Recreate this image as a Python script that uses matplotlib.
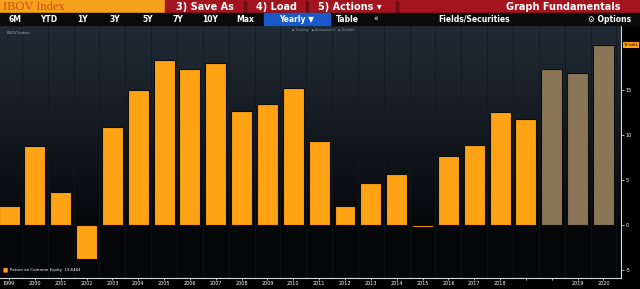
import numpy as np
import matplotlib.pyplot as plt
from matplotlib.patches import Rectangle

# return on common equity, yearly (last three bars are estimates)
labels = ["1999", "2000", "2001", "2002", "2003", "2004", "2005", "2006",
          "2007", "2008", "2009", "2010", "2011", "2012", "2013", "2014",
          "2015", "2016", "2017", "2018", "", "", "2019", "2020"]
roe = [2.1, 8.8, 3.6, -3.8, 10.9, 15.0, 18.3, 17.3, 18.0, 12.7, 13.4, 15.2,
       9.3, 2.1, 4.7, 5.7, -0.2, 7.6, 8.9, 12.5, 11.8, 17.3, 16.85, 20.0]
is_est = [False] * 21 + [True] * 3
last_val = 19.6464

W, H = 640, 289
fig = plt.figure(figsize=(6.4, 2.89), dpi=100)
fig.patch.set_facecolor("#000000")

def px(x0, y0, w, h, color):
    # rectangle in pixel coordinates, y measured from the top
    fig.patches.append(Rectangle((x0 / W, 1 - (y0 + h) / H), w / W, h / H,
                                 transform=fig.transFigure, color=color, zorder=0))

def ptext(x, y, s, **kw):
    fig.text(x / W, 1 - y / H, s, va="center", **kw)

# header row
px(0, 0, 165, 13, "#f6a11b")
px(165, 0, 475, 13, "#a3141f")
for sx in [244, 306, 396]:
    px(sx, 1, 1.5, 11, "#6d0d14")
px(0, 13, 640, 12, "#0b0b0b")
ptext(3, 6.8, "IBOV Index", fontsize=9, color="#c8501c", family="Liberation Serif")
ptext(176, 6.5, "3) Save As", fontsize=7, color="white", weight="bold")
ptext(256, 6.5, "4) Load", fontsize=7, color="white", weight="bold")
ptext(318, 6.5, "5) Actions \u25be", fontsize=7, color="white", weight="bold")
ptext(621, 6.5, "Graph Fundamentals", fontsize=7, color="white", weight="bold", ha="right")

# period tabs
for s, x in [("6M", 15), ("YTD", 49), ("1Y", 82), ("3Y", 115), ("5Y", 148),
             ("7Y", 178), ("10Y", 210), ("Max", 245)]:
    ptext(x, 19, s, fontsize=5.5, color="white", weight="bold", ha="center")
px(264, 13.5, 66, 11, "#1b58c9")
ptext(297, 19, "Yearly \u25bc", fontsize=5.5, color="white", weight="bold", ha="center")
ptext(347, 19, "Table", fontsize=5.5, color="white", weight="bold", ha="center")
ptext(376, 19, "\u00ab", fontsize=5.5, color="white", ha="center")
ptext(474, 19, "Fields/Securities", fontsize=5.5, color="white", weight="bold", ha="center")
ptext(610, 19, "\u2699 Options", fontsize=5.5, color="white", weight="bold", ha="center")

# chart area
ax = fig.add_axes([0, (H - 278) / H, 621 / W, 253 / H])
ax.set_facecolor("#000000")
x = np.arange(len(roe))
ax.set_xlim(-0.35, 23.68)
ax.set_ylim(-5.9, 22.2)

grad = np.linspace(1, 0, 256).reshape(-1, 1)
top = np.array([0.13, 0.17, 0.21])
bot = np.array([0.02, 0.025, 0.035])
img = bot + (top - bot) * grad[..., None] ** 0.9
img = img.reshape(256, 1, 3)
ax.imshow(img, extent=[-0.35, 23.68, 0, 22.2], aspect="auto", zorder=0)
ax.axhspan(-5.9, 0, color="#050608", zorder=0.5)
for xv in x:
    ax.axvline(xv + 0.5, color="#121820", lw=0.5, zorder=0.6)

colors = ["#8a7656" if e else "#ffa214" for e in is_est]
ax.bar(x, roe, width=0.81, color=colors, edgecolor="#0f0f0f", linewidth=0.8, zorder=2)

ax.set_xticks(x)
ax.set_xticklabels(labels, fontsize=3.5, color="white")
ax.yaxis.tick_right()
ax.set_yticks([-5, 0, 5, 10, 15])
ax.set_yticklabels(["-5", "0", "5", "10", "15"], fontsize=3.5, color="white")
ax.tick_params(axis="x", length=1.5, width=0.5, color="white", pad=1)
ax.tick_params(axis="y", length=2, width=0.5, color="white", pad=1.5)
for side in ["top", "left"]:
    ax.spines[side].set_visible(False)
for side in ["bottom", "right"]:
    ax.spines[side].set_color("#d8d8d8")
    ax.spines[side].set_linewidth(0.8)

# last value tag on the axis
ax.annotate("%.4f" % last_val, xy=(1.0, roe[-1]), xycoords=("axes fraction", "data"),
            xytext=(2, 0), textcoords="offset points", fontsize=2.5, color="black",
            va="center", ha="left", annotation_clip=False,
            bbox=dict(boxstyle="square,pad=0.25", fc="#ffa214", ec="none"))

ax.text(0.012, 0.975, "IBOV Index", transform=ax.transAxes, fontsize=3, color="#9aa4b0", va="top")
ax.text(0.47, 0.99, "\u25aa Trailing   \u25aa Annualized   \u25aa Growth", transform=ax.transAxes,
        fontsize=2.5, color="#8a919a", va="top")
ax.text(0.004, 0.022, "\u25a0", transform=ax.transAxes, fontsize=4, color="#ffa214", va="bottom")
ax.text(0.016, 0.024, "Return on Common Equity  19.6464", transform=ax.transAxes,
        fontsize=2.8, color="white", va="bottom")

fig.savefig("out.png", dpi=100, facecolor=fig.get_facecolor())
